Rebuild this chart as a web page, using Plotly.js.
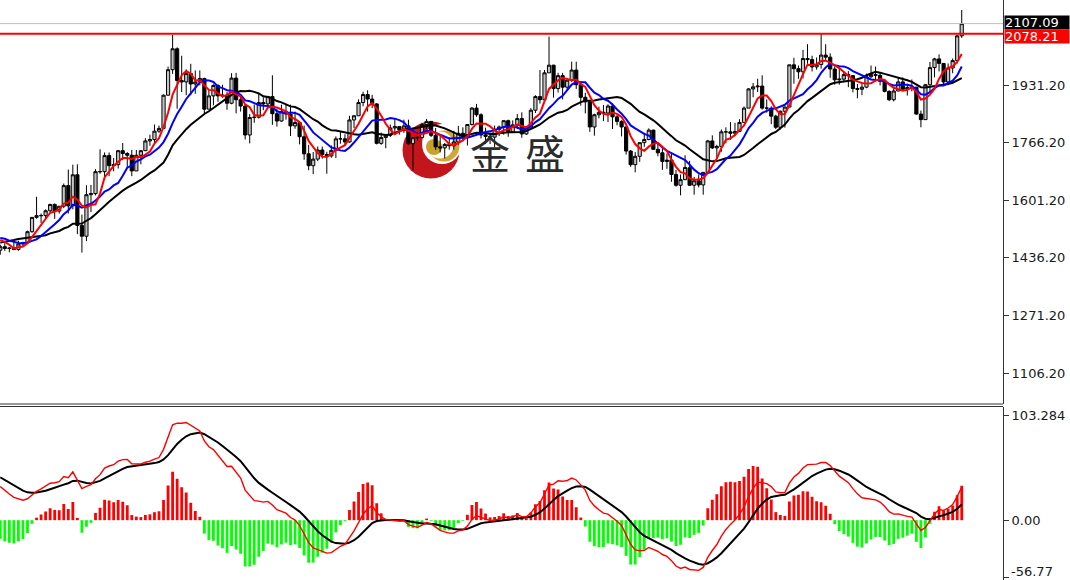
<!DOCTYPE html>
<html><head><meta charset="utf-8">
<script src="https://cdn.plot.ly/plotly-3.0.1.min.js"></script>
<style>html,body{margin:0;padding:0;background:#fff;}#chart{width:1070px;height:580px;}</style>
</head><body><div id="chart"></div>
<script>
// weekly closes before the first visible candle (only used to warm up the moving averages / MACD)
const warmupCloses = [1289,1282,1298,1318,1314,1322,1328,1294,1298,1302,1313,1292,1291,1290,1276,1286,1281,1286,1277,1284,1305,1341,1341,1399,1409,1400,1415,1426,1419,1440,1497,1513,1526,1520,1507,1488,1516,1497,1505,1489,1490,1505,1514,1459];

const opens = [1458,1468,1463,1464,1460,1476,1479,1511,1552,1557,
1557,1571,1589,1570,1584,1643,1585,1674,1529,1498,
1617,1620,1683,1683,1729,1700,1703,1743,1735,1730,
1685,1730,1743,1771,1775,1799,1807,1902,1975,2035,
1944,1940,1964,1934,1940,1950,1862,1900,1930,1900,
1902,1879,1951,1889,1871,1788,1838,1839,1881,1877,
1898,1849,1828,1855,1848,1814,1824,1783,1734,1700,
1719,1745,1732,1728,1744,1777,1777,1768,1831,1843,
1881,1904,1891,1877,1764,1781,1787,1808,1812,1802,
1814,1763,1780,1781,1818,1827,1787,1754,1751,1761,
1757,1768,1793,1783,1818,1865,1846,1788,1784,1782,
1804,1811,1829,1797,1817,1835,1791,1808,1859,1898,
1889,1966,1988,1921,1958,1925,1945,1974,1932,1896,
1883,1811,1846,1853,1851,1871,1840,1827,1811,1742,
1703,1727,1766,1775,1802,1747,1737,1712,1716,1675,
1644,1660,1694,1644,1657,1645,1681,1771,1751,1755,
1797,1797,1793,1798,1824,1865,1920,1926,1928,1865,
1865,1842,1810,1856,1868,1989,1978,1969,2007,2004,
1983,1990,2017,2011,1977,1946,1948,1961,1958,1921,
1919,1925,1955,1961,1959,1942,1913,1889,1914,1940,
1919,1924,1925,1848,1832,1932,1981,2006,1993,1940,
1980,2001,2072];
const highs = [1474,1478,1466,1484,1485,1482,1514,1553,1611,1563,
1575,1591,1592,1584,1649,1689,1703,1704,1560,1644,
1645,1690,1747,1738,1738,1722,1745,1765,1739,1745,
1745,1745,1779,1789,1818,1815,1904,1984,2075,2039,
2015,1976,1992,1973,1973,1952,1917,1933,1933,1932,
1911,1965,1966,1898,1875,1848,1875,1906,1896,1900,
1959,1863,1875,1875,1875,1855,1825,1815,1760,1739,
1755,1755,1740,1758,1784,1797,1790,1843,1845,1890,
1912,1916,1903,1879,1795,1790,1818,1834,1812,1832,
1832,1781,1795,1823,1834,1827,1808,1788,1765,1781,
1800,1814,1810,1818,1868,1877,1850,1809,1793,1815,
1815,1830,1832,1830,1848,1853,1813,1865,1902,1974,
1974,2070,1989,1966,1966,1945,1998,1998,1935,1909,
1884,1849,1869,1874,1876,1879,1847,1830,1813,1745,
1739,1767,1794,1807,1803,1765,1750,1735,1735,1688,
1675,1730,1714,1668,1675,1682,1774,1787,1760,1804,
1810,1825,1823,1833,1870,1922,1937,1949,1959,1890,
1870,1846,1858,1870,1989,2009,1987,2032,2048,2015,
2010,2079,2048,2022,1985,1983,1970,1971,1959,1934,
1935,1964,1987,1984,1968,1947,1916,1923,1953,1953,
1935,1947,1925,1858,1933,1997,2009,2019,1993,1993,
2007,2075,2146];
const lows = [1445,1456,1452,1458,1456,1470,1477,1508,1548,1536,
1546,1563,1548,1563,1579,1563,1575,1504,1451,1484,
1567,1615,1677,1659,1670,1684,1692,1716,1692,1670,
1685,1704,1742,1757,1764,1794,1807,1901,1963,1863,
1911,1902,1902,1906,1930,1848,1862,1873,1883,1895,
1860,1876,1850,1855,1775,1764,1823,1835,1859,1871,
1817,1812,1826,1832,1785,1806,1761,1717,1687,1676,
1713,1720,1677,1723,1722,1763,1756,1766,1808,1843,
1870,1855,1865,1761,1760,1750,1782,1792,1789,1794,
1760,1687,1772,1779,1805,1782,1745,1738,1721,1746,
1746,1760,1770,1758,1815,1840,1778,1762,1762,1753,
1785,1789,1783,1795,1805,1780,1788,1807,1851,1878,
1889,1966,1895,1910,1890,1915,1940,1920,1872,1850,
1797,1786,1836,1828,1825,1805,1816,1784,1732,1697,
1681,1711,1754,1773,1745,1727,1688,1691,1654,1640,
1615,1659,1642,1617,1638,1617,1677,1748,1722,1740,
1764,1774,1784,1797,1824,1865,1896,1911,1861,1852,
1819,1805,1804,1809,1868,1935,1949,1950,1992,1970,
1975,1978,2002,1952,1932,1932,1939,1925,1910,1893,
1902,1922,1951,1942,1930,1910,1885,1884,1914,1915,
1901,1913,1846,1810,1831,1908,1953,1970,1931,1931,
1965,1993,2066];
const closes = [1468,1463,1464,1460,1476,1479,1511,1552,1557,1557,
1571,1589,1570,1584,1643,1585,1674,1529,1498,1617,
1620,1683,1683,1729,1700,1703,1743,1735,1730,1685,
1730,1743,1771,1775,1799,1807,1902,1975,2035,1944,
1940,1964,1934,1940,1950,1862,1900,1930,1900,1902,
1879,1951,1889,1871,1788,1838,1839,1881,1877,1898,
1849,1828,1855,1848,1814,1824,1783,1734,1700,1719,
1745,1732,1728,1744,1777,1777,1768,1831,1843,1881,
1904,1891,1877,1764,1781,1787,1808,1812,1802,1814,
1763,1780,1781,1818,1827,1787,1754,1751,1761,1757,
1768,1793,1783,1818,1865,1846,1788,1784,1782,1804,
1811,1829,1797,1817,1835,1791,1808,1859,1898,1889,
1966,1988,1921,1958,1925,1945,1974,1932,1896,1883,
1811,1846,1853,1851,1871,1840,1827,1811,1742,1703,
1727,1766,1775,1802,1747,1737,1712,1716,1675,1644,
1660,1695,1644,1657,1645,1681,1771,1751,1755,1797,
1797,1793,1798,1824,1865,1920,1926,1928,1865,1865,
1842,1810,1856,1868,1989,1978,1969,2007,2004,1983,
1990,2017,2011,1977,1946,1948,1961,1958,1921,1919,
1925,1955,1961,1959,1942,1913,1889,1914,1940,1919,
1924,1925,1848,1832,1932,1981,2006,1993,1940,1980,
2001,2072,2107];

const priceTicks = [1931.2, 1766.2, 1601.2, 1436.2, 1271.2, 1106.2];
const priceTickText = ['1931.20','1766.20','1601.20','1436.20','1271.20','1106.20'];
const macdTicks = [103.284, 0, -56.77];
const macdTickText = ['103.284','0.00','-56.77'];
const bidPrice = 2107.09;
const levelPrice = 2078.21;
const logoChars = ['金','盛'];

// ---- indicators derived from the closes ----
const W = warmupCloses.length;
const all = warmupCloses.concat(closes);
const xs = closes.map((_, i) => i);
function sma(n){
  return closes.map((_, i) => { let s = 0; for (let k = W+i-n+1; k <= W+i; k++) s += all[k]; return s/n; });
}
function ema(arr, n){
  const a = 2/(n+1), out = [];
  arr.forEach((v, i) => out.push(i === 0 ? v : out[i-1] + a*(v - out[i-1])));
  return out;
}
const e12 = ema(all, 12), e26 = ema(all, 26);
const difAll = all.map((v, i) => e12[i] - e26[i]);
const deaAll = ema(difAll, 9);
const dif = difAll.slice(W), dea = deaAll.slice(W);
const hist = dif.map((v, i) => 2*(v - dea[i]));

const traces = [
  {type:'candlestick', x:xs, open:opens, high:highs, low:lows, close:closes,
   xaxis:'x', yaxis:'y', whiskerwidth:0, hoverinfo:'skip',
   increasing:{line:{color:'#000', width:1}, fillcolor:'#c4c4c4'},
   decreasing:{line:{color:'#000', width:1}, fillcolor:'#000'}},
  {type:'scatter', mode:'lines', x:xs, y:sma(20), line:{color:'#000', width:2}, xaxis:'x', yaxis:'y', hoverinfo:'skip'},
  {type:'scatter', mode:'lines', x:xs, y:sma(10), line:{color:'#0000ff', width:2}, xaxis:'x', yaxis:'y', hoverinfo:'skip'},
  {type:'scatter', mode:'lines', x:xs, y:sma(5), line:{color:'#ff0000', width:2}, xaxis:'x', yaxis:'y', hoverinfo:'skip'},
  {type:'bar', x:xs, y:hist, width:0.62, marker:{color:hist.map(v => v >= 0 ? '#ff0000' : '#00ff00'), line:{width:0}},
   xaxis:'x2', yaxis:'y2', hoverinfo:'skip'},
  {type:'scatter', mode:'lines', x:xs, y:dea, line:{color:'#000', width:2}, xaxis:'x2', yaxis:'y2', hoverinfo:'skip'},
  {type:'scatter', mode:'lines', x:xs, y:dif, line:{color:'#ff0000', width:1.4}, xaxis:'x2', yaxis:'y2', hoverinfo:'skip'}
];

const PW = 1003, PH = 580;
function disk(cx, cy, r, color){
  return {type:'circle', xref:'paper', yref:'paper', x0:(cx-r)/PW, x1:(cx+r)/PW,
          y0:1-(cy+r)/PH, y1:1-(cy-r)/PH, fillcolor:color, line:{width:0}, layer:'below'};
}
const shapes = [
  disk(431,150,28.5,'#c3161c'),
  disk(442,144,20,'#ffffff'),
  disk(444,146,15.5,'#d1a73a'),
  disk(440,145,13.5,'#ffffff'),
  disk(434,147,8,'#c9a02c'),
  {type:'line', xref:'paper', yref:'y', x0:0, x1:1, y0:bidPrice, y1:bidPrice, line:{color:'#c0c0c0', width:1}},
  {type:'line', xref:'paper', yref:'y', x0:0, x1:1, y0:levelPrice, y1:levelPrice, line:{color:'#ff0000', width:2}},
  {type:'line', xref:'paper', yref:'paper', x0:0, x1:1, y0:1-404/PH, y1:1-404/PH, line:{color:'#333', width:1}},
  {type:'line', xref:'paper', yref:'paper', x0:0, x1:1, y0:1-406.5/PH, y1:1-406.5/PH, line:{color:'#333', width:1}}
];

const axisFont = {family:'DejaVu Sans', size:13, color:'#1a1a1a'};
const annotations = [
  {xref:'paper', yref:'y', x:1, y:bidPrice, xanchor:'left', yanchor:'middle', xshift:1, yshift:1.5, showarrow:false, text:'2107.09',
   bgcolor:'#000', font:{family:'DejaVu Sans', size:13, color:'#fff'}, width:64, height:13, align:'left', borderpad:0},
  {xref:'paper', yref:'y', x:1, y:levelPrice, xanchor:'left', yanchor:'middle', xshift:1, yshift:-2.5, showarrow:false, text:'2078.21',
   bgcolor:'#ff0000', font:{family:'DejaVu Sans', size:13, color:'#fff'}, width:64, height:13, align:'left', borderpad:0},
  // lowest MACD label, lifted a little so it stays inside the picture
  {xref:'paper', yref:'y2', x:1, y:macdTicks[2], xanchor:'left', yanchor:'middle', xshift:7, yshift:6, showarrow:false,
   text:macdTickText[2], font:axisFont, borderpad:0},
  {xref:'paper', yref:'paper', x:490/PW, y:1-152/PH, xanchor:'center', yanchor:'middle', showarrow:false, text:logoChars[0],
   font:{family:'Noto Sans CJK SC', size:40, color:'#2b2b2b'}},
  {xref:'paper', yref:'paper', x:545/PW, y:1-152/PH, xanchor:'center', yanchor:'middle', showarrow:false, text:logoChars[1],
   font:{family:'Noto Sans CJK SC', size:40, color:'#2b2b2b'}}
];

const xBase = {range:[-0.06, 221.1], showticklabels:false, showgrid:false, zeroline:false, showline:false,
               ticks:'', fixedrange:true};
const layout = {
  width:1070, height:580, margin:{l:0, r:67, t:0, b:0, pad:0},
  paper_bgcolor:'#fff', plot_bgcolor:'rgba(0,0,0,0)', showlegend:false,
  boxgap:0.3, boxgroupgap:0, bargap:0.3,
  xaxis:Object.assign({anchor:'y', domain:[0,1], rangeslider:{visible:false}}, xBase),
  xaxis2:Object.assign({anchor:'y2', domain:[0,1]}, xBase),
  yaxis:{domain:[1-404/PH, 1], range:[1017.4, 2174.7], side:'right', anchor:'x',
         tickvals:priceTicks, ticktext:priceTickText, ticks:'outside', ticklen:5, tickcolor:'#333',
         showline:true, linecolor:'#333', linewidth:1, showgrid:false, zeroline:false, tickfont:axisFont, fixedrange:true},
  yaxis2:{domain:[0, 1-406.5/PH], range:[-59.0, 112.1], side:'right', anchor:'x2',
          tickvals:macdTicks, ticktext:[macdTickText[0], macdTickText[1], ''], ticks:'outside', ticklen:5, tickcolor:'#333',
          showline:true, linecolor:'#333', linewidth:1, showgrid:false, zeroline:false,
          tickfont:axisFont, fixedrange:true},
  shapes:shapes, annotations:annotations
};
Plotly.newPlot('chart', traces, layout, {staticPlot:true, displayModeBar:false});
</script></body></html>
